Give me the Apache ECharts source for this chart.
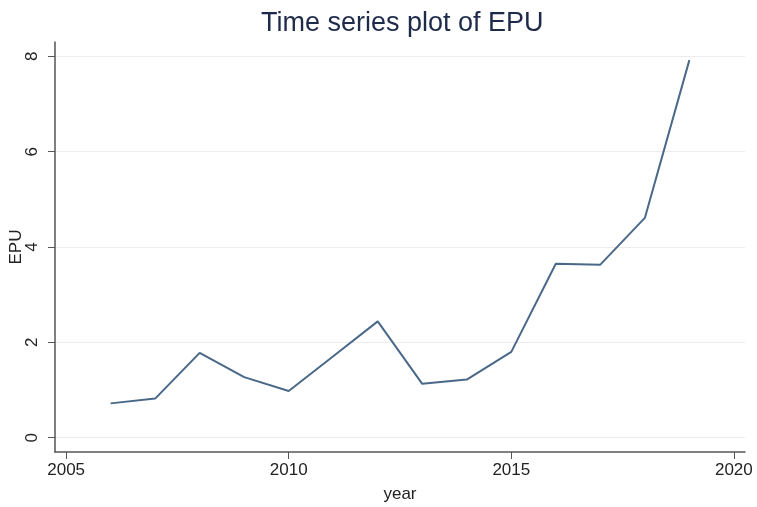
<!DOCTYPE html>
<html>
<head>
<meta charset="utf-8">
<script src="https://cdn.jsdelivr.net/npm/echarts@6/dist/echarts.min.js"></script>
<style>
  html, body { margin: 0; padding: 0; background: #fff; }
  #chart { width: 757px; height: 507px; }
</style>
</head>
<body>
<div id="chart"></div>
<script>
// values
const years = [2006, 2007, 2008, 2009, 2010, 2011, 2012, 2013, 2014, 2015, 2016, 2017, 2018, 2019];
const epu = [0.72, 0.82, 1.78, 1.27, 0.98, 1.71, 2.44, 1.13, 1.22, 1.80, 3.65, 3.63, 4.61, 7.92];
const xTicks = [2005, 2010, 2015, 2020];
const yTicks = [0, 2, 4, 6, 8];

const chart = echarts.init(document.getElementById("chart"));

const labelFont = { fontFamily: "Liberation Sans, Arial, sans-serif", fontSize: 17, color: "#222" };

chart.setOption({
  backgroundColor: "#fff",
  animation: false,
  title: {
    text: "Time series plot of EPU",
    left: 256,
    top: 5,
    textStyle: {
      fontFamily: "Liberation Sans, Arial, sans-serif",
      fontSize: 27,
      fontWeight: "normal",
      color: "#1e2a4a",
    },
  },
  grid: { left: 55, right: 12, top: 42, bottom: 55, outerBoundsMode: "none", containLabel: false },
  xAxis: {
    type: "value",
    min: 2004.75,
    max: 2020.25,
    name: "year",
    nameLocation: "middle",
    nameGap: 34,
    nameTextStyle: labelFont,
    axisLine: { onZero: false, lineStyle: { color: "#555", width: 1.5 } },
    axisTick: { customValues: xTicks, length: 7, lineStyle: { color: "#555" } },
    axisLabel: Object.assign({ customValues: xTicks, margin: 10, formatter: (v) => String(v) }, labelFont),
    splitLine: { show: false },
  },
  yAxis: {
    type: "value",
    min: -0.3,
    max: 8.3,
    name: "EPU",
    nameLocation: "middle",
    nameGap: 30,
    nameRotate: 90,
    nameMoveOverlap: false,
    nameTextStyle: labelFont,
    axisLine: { show: true, onZero: false, lineStyle: { color: "#555", width: 1.5 } },
    axisTick: { show: true, customValues: yTicks, length: 7, lineStyle: { color: "#555" } },
    axisLabel: Object.assign({ customValues: yTicks, rotate: 90, margin: 14 }, labelFont),
    splitLine: { show: true, lineStyle: { color: "#ececec", width: 1 } },
  },
  series: [
    {
      type: "line",
      data: years.map((y, i) => [y, epu[i]]),
      showSymbol: false,
      lineStyle: { color: "#4a6888", width: 2 },
    },
  ],
});
</script>
</body>
</html>
